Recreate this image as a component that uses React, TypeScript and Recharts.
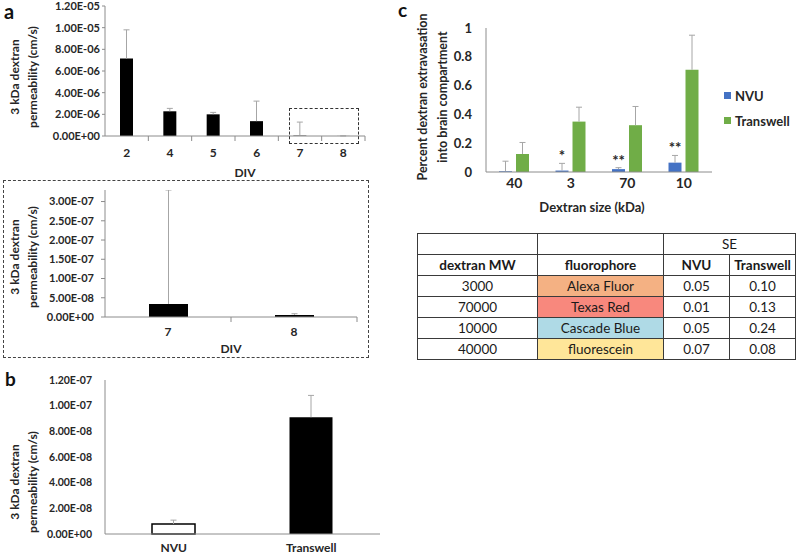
import React from "react";
import { BarChart, Bar, XAxis, YAxis, Cell, Legend, LabelList } from "recharts";

const FONT = "Lato, 'Noto Sans', sans-serif";
const INK = "#262626";
const AXIS_GRAY = "#8c8c8c";
const ERR_GRAY = "#a6a6a6";
const NVU_BLUE = "#4472c4";
const TW_GREEN = "#70ad47";

// panel a: 3 kDa permeability vs days in vitro
const divDays = ["2", "4", "5", "6", "7", "8"];
const divPerm = [7.15e-6, 2.28e-6, 2.0e-6, 1.37e-6, 3.4e-8, 5.5e-9];
const divErr = [2.65e-6, 0.27e-6, 0.18e-6, 1.85e-6, 1.25e-6, 3e-9];
const divTicks = [0, 2e-6, 4e-6, 6e-6, 8e-6, 1e-5, 1.2e-5];
const insetTicks = [0, 5e-8, 1e-7, 1.5e-7, 2e-7, 2.5e-7, 3e-7];

// panel b: NVU vs Transwell
const models = ["NVU", "Transwell"];
const modelPerm = [7.8e-9, 9.1e-8];
const modelErr = [3.0e-9, 1.7e-8];
const modelTicks = [0, 2e-8, 4e-8, 6e-8, 8e-8, 1e-7, 1.2e-7];

// panel c: extravasation by dextran size
const sizes = ["40", "3", "70", "10"];
const nvuPct = [0.005, 0.01, 0.02, 0.065];
const nvuSE = [0.07, 0.05, 0.01, 0.05];
const twPct = [0.125, 0.35, 0.325, 0.71];
const twSE = [0.08, 0.1, 0.13, 0.24];
const sig = ["", "*", "**", "**"];
const pctTicks = [0, 0.2, 0.4, 0.6, 0.8, 1];

// SE table
const tableMW = ["3000", "70000", "10000", "40000"];
const tableFluor = ["Alexa Fluor", "Texas Red", "Cascade Blue", "fluorescein"];
const tableSeNvu = ["0.05", "0.01", "0.05", "0.07"];
const tableSeTw = ["0.10", "0.13", "0.24", "0.08"];
const FLUOR_FILL = ["#f4b183", "#f8887d", "#afdae6", "#ffe699"];

const divData = divDays.map((d, i) => ({ day: d, v: divPerm[i], e: divErr[i] }));
const insetData = divData.slice(4);
const modelData = models.map((m, i) => ({ model: m, v: modelPerm[i], e: modelErr[i] }));
const sizeData = sizes.map((s, i) => ({
  size: s,
  nvu: nvuPct[i],
  ne: nvuSE[i],
  tw: twPct[i],
  te: twSE[i],
  sig: sig[i],
}));

function sci(v: number) {
  if (v === 0) return "0.00E+00";
  const [m, e] = v.toExponential(2).split("e");
  const n = parseInt(e, 10);
  return `${m}E${n < 0 ? "-" : "+"}${String(Math.abs(n)).padStart(2, "0")}`;
}

// error bar drawn as the top segment of a stack
function ErrBar(props: any) {
  const { x, y, width, height, cap = 3, color = ERR_GRAY } = props;
  if (x == null || height == null) return null;
  const cx = x + width / 2;
  return (
    <g>
      <line x1={cx} x2={cx} y1={y + height} y2={y} stroke={color} strokeWidth={1} />
      <line x1={cx - cap} x2={cx + cap} y1={y} y2={y} stroke={color} strokeWidth={1} />
    </g>
  );
}

// category tick with excel-style marks between categories
function CatTick(props: any) {
  const { x, y, payload, half, dy = 17, size = 12 } = props;
  return (
    <g>
      <text x={x} y={y + dy} dy="0.35em" textAnchor="middle" fontSize={size} fontWeight={700} fill={INK} fontFamily={FONT}>
        {payload.value}
      </text>
      <line x1={x + half} x2={x + half} y1={y} y2={y + 5} stroke={AXIS_GRAY} />
    </g>
  );
}

function StarLabel(props: any) {
  const { x, y, width, value } = props;
  if (!value) return null;
  return (
    <text x={x + width / 2} y={y - 2} textAnchor="middle" fontSize={15} fontWeight={700} fill={INK} fontFamily={FONT}>
      {value}
    </text>
  );
}

function VLabel({ cx, cy, lines, size = 12, gap = 18 }: any) {
  return (
    <div
      style={{
        position: "absolute",
        left: cx,
        top: cy,
        transform: "translate(-50%, -50%) rotate(-90deg)",
        whiteSpace: "nowrap",
        textAlign: "center",
        fontWeight: 700,
        fontSize: size,
        lineHeight: `${gap}px`,
        color: INK,
      }}
    >
      {lines.map((l: string) => (
        <div key={l}>{l}</div>
      ))}
    </div>
  );
}

function Letter({ ch, left, top, size = 20 }: any) {
  return (
    <div style={{ position: "absolute", left, top, fontSize: size, fontWeight: 700, lineHeight: 1, color: "#111" }}>{ch}</div>
  );
}

const yTick = (size: number) => ({ fontSize: size, fontWeight: 700, fill: INK, fontFamily: FONT });

function LegendBox(props: any) {
  const items = (props.payload || []).filter((p: any) => p.type !== "none");
  return (
    <div style={{ fontFamily: FONT, fontWeight: 700, fontSize: 13, color: INK }}>
      {items.map((p: any) => (
        <div key={p.value} style={{ display: "flex", alignItems: "center", height: 25 }}>
          <span style={{ width: 7, height: 7, background: p.color, marginRight: 4, display: "inline-block" }} />
          {p.value}
        </div>
      ))}
    </div>
  );
}

const cell: React.CSSProperties = {
  border: "1.5px solid #3a3a3a",
  textAlign: "center",
  padding: 0,
  height: 20,
};

export default function App() {
  return (
    <div
      style={{
        position: "absolute",
        left: 0,
        top: 0,
        width: 797,
        height: 555,
        background: "#fff",
        fontFamily: FONT,
        overflow: "hidden",
      }}
    >
      {/* panel a */}
      <Letter ch="a" left={4} top={1} />
      <VLabel cx={24} cy={77} lines={["3 kDa dextran", "permeability (cm/s)"]} />
      <div style={{ position: "absolute", left: 0, top: -4 }}>
        <BarChart width={380} height={184} data={divData} margin={{ top: 10, right: 15, bottom: 0, left: 0 }}>
          <XAxis
            dataKey="day"
            height={44}
            tickLine={false}
            tickSize={0}
            tickMargin={0}
            axisLine={{ stroke: AXIS_GRAY }}
            tick={<CatTick half={260 / divDays.length / 2} />}
            interval={0}
            label={{ value: "DIV", position: "insideBottom", offset: 3, dx: 10, fontSize: 12, fontWeight: 700, fill: INK }}
          />
          <YAxis
            width={105}
            domain={[0, 1.2e-5]}
            ticks={divTicks}
            tickFormatter={sci}
            tick={yTick(11)}
            tickSize={3}
            tickMargin={2}
            tickLine={{ stroke: AXIS_GRAY }}
            axisLine={{ stroke: AXIS_GRAY }}
          />
          <Bar dataKey="v" stackId="s" fill="#000" barSize={13} isAnimationActive={false} />
          <Bar dataKey="e" stackId="s" shape={(p: any) => <ErrBar {...p} cap={3} />} isAnimationActive={false} />
        </BarChart>
      </div>
      <div style={{ position: "absolute", left: 289, top: 108, width: 68, height: 34, border: "1.5px dashed #333" }} />

      {/* inset of DIV 7-8 */}
      <div style={{ position: "absolute", left: 3, top: 180, width: 364, height: 176, border: "1px dashed #444" }} />
      <VLabel cx={24} cy={257} lines={["3 kDa dextran", "permeability (cm/s)"]} />
      <div style={{ position: "absolute", left: 0, top: 182 }}>
        <BarChart width={370} height={178} data={insetData} margin={{ top: 8, right: 13, bottom: 0, left: 0 }}>
          <XAxis
            dataKey="day"
            height={43}
            tickLine={false}
            tickSize={0}
            tickMargin={0}
            axisLine={{ stroke: AXIS_GRAY }}
            tick={<CatTick half={252 / insetData.length / 2} dy={15} />}
            interval={0}
            label={{ value: "DIV", position: "insideBottom", offset: 7, fontSize: 12, fontWeight: 700, fill: INK }}
          />
          <YAxis
            width={105}
            domain={[0, 3.3e-7]}
            allowDataOverflow
            ticks={insetTicks}
            tickFormatter={sci}
            tick={yTick(11)}
            tickSize={4}
            tickMargin={7}
            tickLine={{ stroke: AXIS_GRAY }}
            axisLine={{ stroke: AXIS_GRAY }}
          />
          <Bar dataKey="v" stackId="s" fill="#000" barSize={39} isAnimationActive={false} />
          <Bar dataKey="e" stackId="s" shape={(p: any) => <ErrBar {...p} cap={3} />} isAnimationActive={false} />
        </BarChart>
      </div>

      {/* panel b */}
      <Letter ch="b" left={5} top={369} size={19} />
      <VLabel cx={24} cy={482} lines={["3 kDa dextran", "permeability (cm/s)"]} />
      <div style={{ position: "absolute", left: 0, top: 370 }}>
        <BarChart width={390} height={185} data={modelData} margin={{ top: 10, right: 10, bottom: 0, left: 0 }}>
          <XAxis
            dataKey="model"
            height={21}
            tickLine={false}
            tickSize={0}
            tickMargin={9}
            axisLine={{ stroke: AXIS_GRAY }}
            tick={yTick(12)}
            interval={0}
          />
          <YAxis
            width={105}
            domain={[0, 1.2e-7]}
            ticks={modelTicks}
            tickFormatter={sci}
            tick={yTick(10.5)}
            tickLine={false}
            tickSize={0}
            tickMargin={13}
            axisLine={{ stroke: AXIS_GRAY }}
          />
          <Bar dataKey="v" stackId="s" barSize={43} isAnimationActive={false}>
            {modelData.map((d) => (
              <Cell
                key={d.model}
                fill={d.model === "NVU" ? "#fff" : "#000"}
                stroke="#000"
                strokeWidth={d.model === "NVU" ? 1.5 : 0}
              />
            ))}
          </Bar>
          <Bar dataKey="e" stackId="s" shape={(p: any) => <ErrBar {...p} cap={3} />} isAnimationActive={false} />
        </BarChart>
      </div>

      {/* panel c */}
      <VLabel cx={433} cy={97} lines={["Percent dextran extravasation", "into brain compartment"]} size={12.5} gap={20} />
      <div style={{ position: "absolute", left: 402, top: 0 }}>
        <BarChart
          width={395}
          height={218}
          data={sizeData}
          margin={{ top: 28, right: 85, bottom: 0, left: 0 }}
          barGap={4}
        >
          <XAxis
            dataKey="size"
            height={46}
            tickLine={false}
            tickSize={0}
            tickMargin={6}
            axisLine={{ stroke: AXIS_GRAY }}
            tick={yTick(14)}
            interval={0}
            label={{ value: "Dextran size (kDa)", position: "insideBottom", offset: 6, dx: -7, fontSize: 13, fontWeight: 700, fill: INK }}
          />
          <YAxis
            width={84}
            domain={[0, 1]}
            ticks={pctTicks}
            tick={yTick(13)}
            tickLine={false}
            tickSize={6}
            tickMargin={8}
            axisLine={{ stroke: AXIS_GRAY }}
          />
          <Legend
            layout="vertical"
            align="center"
            verticalAlign="middle"
            wrapperStyle={{ left: 322, top: 83, width: 70 }}
            content={<LegendBox />}
          />
          <Bar dataKey="nvu" name="NVU" stackId="n" fill={NVU_BLUE} barSize={13} isAnimationActive={false} />
          <Bar
            dataKey="ne"
            stackId="n"
            legendType="none"
            shape={(p: any) => <ErrBar {...p} cap={3} />}
            isAnimationActive={false}
          >
            <LabelList dataKey="sig" content={<StarLabel />} />
          </Bar>
          <Bar dataKey="tw" name="Transwell" stackId="t" fill={TW_GREEN} barSize={13} isAnimationActive={false} />
          <Bar
            dataKey="te"
            stackId="t"
            legendType="none"
            shape={(p: any) => <ErrBar {...p} cap={3} />}
            isAnimationActive={false}
          />
        </BarChart>
      </div>
      <Letter ch="c" left={398} top={0} size={19} />

      {/* SE table */}
      <table
        style={{
          position: "absolute",
          left: 417,
          top: 233,
          width: 378,
          borderCollapse: "collapse",
          fontSize: 13.5,
          color: "#1a1a1a",
          tableLayout: "fixed",
        }}
      >
        <colgroup>
          <col style={{ width: 120 }} />
          <col style={{ width: 126 }} />
          <col style={{ width: 66 }} />
          <col style={{ width: 66 }} />
        </colgroup>
        <tbody>
          <tr>
            <td style={cell} />
            <td style={cell} />
            <td style={cell} colSpan={2}>
              SE
            </td>
          </tr>
          <tr style={{ fontWeight: 700 }}>
            <td style={cell}>dextran MW</td>
            <td style={cell}>fluorophore</td>
            <td style={cell}>NVU</td>
            <td style={cell}>Transwell</td>
          </tr>
          {tableMW.map((mw, i) => (
            <tr key={mw}>
              <td style={cell}>{mw}</td>
              <td style={{ ...cell, background: FLUOR_FILL[i] }}>{tableFluor[i]}</td>
              <td style={cell}>{tableSeNvu[i]}</td>
              <td style={cell}>{tableSeTw[i]}</td>
            </tr>
          ))}
        </tbody>
      </table>
    </div>
  );
}
